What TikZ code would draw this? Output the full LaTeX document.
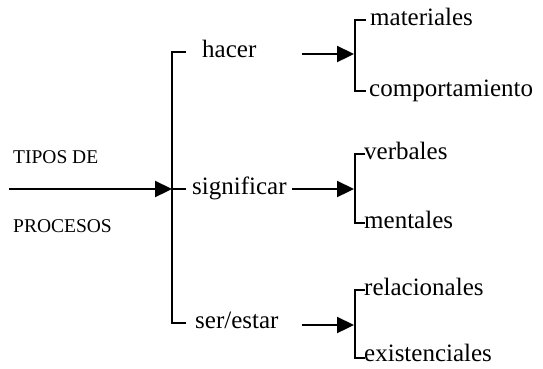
\documentclass[tikz,border=0pt]{standalone}
\usepackage{fontspec}
\setmainfont{Liberation Serif}
\usetikzlibrary{arrows.meta}
\tikzset{
  brk/.style={line width=2.5pt},
  arr/.style={line width=2.3pt, -{Triangle[length=17pt,width=16pt]}},
  lbl/.style={anchor=mid west, inner sep=0pt, yshift=-3pt, font=\fontsize{25}{28}\selectfont},
  caplbl/.style={anchor=base west, inner sep=0pt, font=\fontsize{19.5}{22}\selectfont}
}

\begin{document}
\begin{tikzpicture}[x=1pt, y=-1pt]
			%%%%% START %%%%%
			\useasboundingbox (0, 0) rectangle (543, 368);
			
			\node[caplbl] (tipos) at (13, 163) {TIPOS DE};
			\node[caplbl] (procesos) at (13, 232) {PROCESOS};
			\coordinate (start) at (9, 189);
			\coordinate (root) at (172, 189);
			\draw[arr] (start) -- (root);
			
			\coordinate (top) at (172, 52);
			\coordinate (bot) at (172, 323);
			\draw[brk] (186, 52) -- (top) -- (bot) -- (186, 323);
			\draw[brk] (root) -- (186, 189);
			
			\node[lbl] (hacer) at (202, 52) {hacer};
			\node[lbl] (signif) at (192, 189) {significar};
			\node[lbl] (ser) at (195, 323) {ser/estar};
			
			% hacer
			\coordinate (h1) at (355, 20);
			\coordinate (h2) at (355, 91);
			\coordinate (ha) at (302, 54);
			\draw[brk] (366, 20) -- (h1) -- (h2) -- (366, 91);
			\draw[arr] (ha) -- (354, 54);
			\node[lbl] (mat) at (370, 20.5) {materiales};
			\node[lbl] (comp) at (369, 91) {comportamiento};
			
			% significar
			\coordinate (s1) at (355, 154);
			\coordinate (s2) at (355, 223);
			\coordinate (sa) at (292, 189);
			\draw[brk] (365, 154) -- (s1) -- (s2) -- (365, 223);
			\draw[arr] (sa) -- (354, 189);
			\node[lbl] (verb) at (364, 154) {verbales};
			\node[lbl] (ment) at (364, 223) {mentales};
			
			% ser/estar
			\coordinate (e1) at (355, 290);
			\coordinate (e2) at (355, 358);
			\coordinate (ea) at (302, 325);
			\draw[brk] (365, 290) -- (e1) -- (e2) -- (365, 358);
			\draw[arr] (ea) -- (354, 325);
			\node[lbl] (rel) at (364, 290) {relacionales};
			\node[lbl] (exist) at (364, 356) {existenciales};
			%%%%% END %%%%%
\end{tikzpicture}
\end{document}
